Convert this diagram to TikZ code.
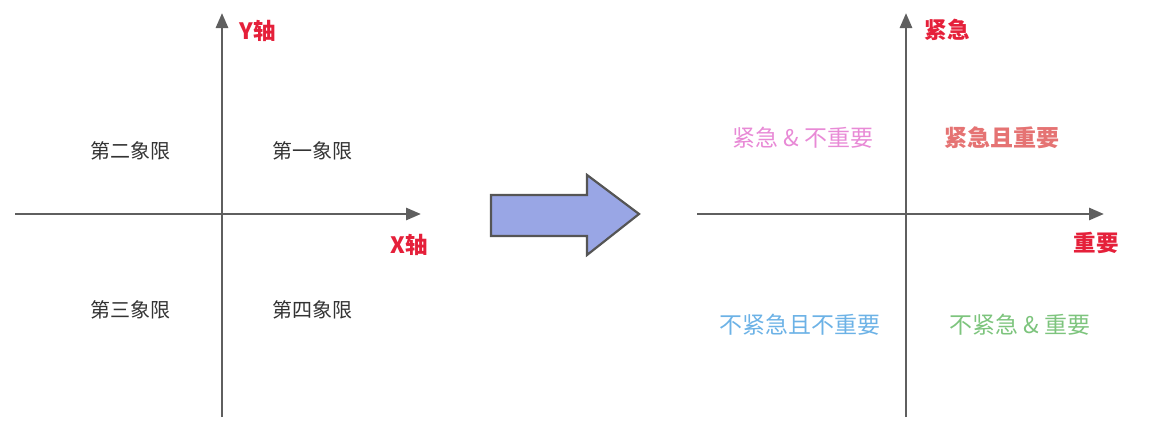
\documentclass[tikz,border=0pt]{standalone}
\usepackage{fontspec}
\setmainfont{Noto Sans CJK SC}
\usetikzlibrary{arrows.meta}
\definecolor{axisgray}{HTML}{5F5F5F}
\definecolor{axred}{HTML}{E5203A}
\definecolor{qpink}{HTML}{E88AD6}
\definecolor{qsalmon}{HTML}{E57373}
\definecolor{qblue}{HTML}{6CB2E6}
\definecolor{qgreen}{HTML}{7DC47D}
\definecolor{arrowfill}{HTML}{99A6E5}
\definecolor{arrowdraw}{HTML}{555555}
\tikzset{
  axis/.style={draw=axisgray, line width=2.8pt, -{Triangle[length=15pt,width=12pt]}},
  qlabel/.style={font=\fontsize{20}{24}\selectfont, text=black!80, inner sep=0pt},
  rlabel/.style={font=\fontsize{23}{27}\selectfont, inner sep=0pt},
  axlabel/.style={font=\bfseries\fontsize{22.5}{27}\selectfont, text=axred, inner sep=0pt},
}
\begin{document}
\begin{tikzpicture}[x=1pt,y=-1pt]
\useasboundingbox (0,0) rectangle (1149,447);
% left diagram
\coordinate (lxs) at (15,214);
\coordinate (lxe) at (421,214);
\coordinate (lys) at (222,417);
\coordinate (lye) at (222,13);
\draw[axis] (lxs) -- (lxe);
\draw[axis] (lys) -- (lye);
\node[axlabel] (ylab) at (258,31) {Y轴};
\node[axlabel] (xlab) at (409,245) {X轴};
\node[qlabel] (q2) at (130,151) {第二象限};
\node[qlabel] (q1) at (312,151) {第一象限};
\node[qlabel] (q3) at (130,310) {第三象限};
\node[qlabel] (q4) at (312,310) {第四象限};
% big arrow
\draw[fill=arrowfill, draw=arrowdraw, line width=2.2pt, line join=miter]
  (491,195) -- (587,195) -- (587,175) -- (639,214) -- (587,255) -- (587,236) -- (491,236) -- cycle;
% right diagram
\coordinate (rxs) at (697,214);
\coordinate (rxe) at (1104,214);
\coordinate (rys) at (906,417);
\coordinate (rye) at (906,13);
\draw[axis] (rxs) -- (rxe);
\draw[axis] (rys) -- (rye);
\node[axlabel] (ulab) at (947,30) {紧急};
\node[axlabel] (ilab) at (1096,243) {重要};
\node[rlabel, text=qpink] (r2) at (803,138) {紧急 \& 不重要};
\node[rlabel, text=qsalmon, font=\bfseries\fontsize{23}{27}\selectfont] (r1) at (1002,138) {紧急且重要};
\node[rlabel, text=qblue] (r3) at (800,325) {不紧急且不重要};
\node[rlabel, text=qgreen] (r4) at (1020,325) {不紧急 \& 重要};
\end{tikzpicture}
\end{document}
